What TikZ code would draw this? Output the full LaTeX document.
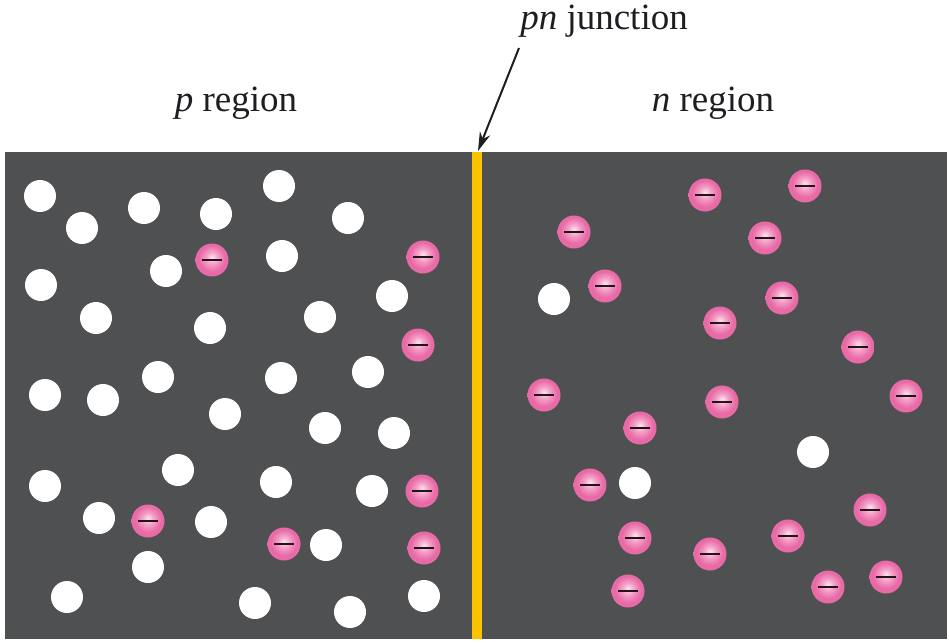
\documentclass[tikz,border=0pt]{standalone}
\usepackage{fontspec}
\setmainfont{Liberation Serif}
\usetikzlibrary{arrows.meta}
\definecolor{bulk}{RGB}{79,80,82}
\definecolor{junc}{RGB}{250,195,0}
\definecolor{elecin}{RGB}{254,228,240}
\definecolor{elecmid}{RGB}{244,160,200}
\definecolor{elecout}{RGB}{232,106,166}
\definecolor{minuscol}{RGB}{35,20,28}
\definecolor{inkcol}{RGB}{30,30,34}
% pink sphere with its highlight slightly above centre
\pgfdeclareradialshading{elecball}{\pgfpoint{0bp}{4bp}}{%
  color(0bp)=(elecin); color(9bp)=(elecmid); color(20bp)=(elecout);
  color(26bp)=(elecout); color(50bp)=(elecout)}
\tikzset{
  hole/.style={circle,fill=white,inner sep=0pt,minimum size=32pt},
  electron/.style={circle,inner sep=0pt,minimum size=33pt,
    shading=elecball,
    path picture={\draw[minuscol,line width=2.6pt]
      ([xshift=-10pt]path picture bounding box.center) --
      ([xshift=10pt]path picture bounding box.center);}},
  caption/.style={anchor=base,inner sep=0pt,text=inkcol,
    font=\fontsize{37}{44}\selectfont},
  pointer/.style={-{Stealth[length=19pt,width=11pt]},line width=2pt,inkcol}
}
\begin{document}
\begin{tikzpicture}[x=1pt,y=-1pt]
\useasboundingbox (0,0) rectangle (949,642);
% semiconductor bar
\fill[bulk] (5,152) rectangle (947,639);
% metallurgical junction
\fill[junc] (471.5,152) rectangle (482,639);
\coordinate (jtop) at (478,151);
% labels
\node[caption] (lp) at (236,111) {\textit{p} region};
\node[caption] (ln) at (713,111) {\textit{n} region};
\node[caption] (lj) at (604,30) {\textit{pn} junction};
\coordinate (jtail) at (519,48);
\draw[pointer] (jtail) -- (jtop);
% holes, p side
\foreach \x/\y [count=\i] in {
  40/196, 82/228, 144/208, 216/214, 279/186, 348/218,
  41/285, 166/271, 282/256, 392/296,
  96/318, 210/328, 320/317,
  45/395, 103/400, 158/377, 281/378, 368/372,
  225/414, 325/428, 394/433,
  45/486, 178/470, 276/482, 372/491,
  99/518, 211/522, 326/545,
  148/567, 67/597, 255/603, 350/612, 424/596}
  \node[hole] (hp\i) at (\x,\y) {};
% electrons, p side
\foreach \x/\y [count=\i] in {
  212/260, 423/257, 418/345, 422/491, 148/521, 284/544, 424/548}
  \node[electron] (ep\i) at (\x,\y) {};
% holes, n side
\foreach \x/\y [count=\i] in {554/299, 813/452, 635/483}
  \node[hole] (hn\i) at (\x,\y) {};
% electrons, n side
\foreach \x/\y [count=\i] in {
  705/195, 805/186, 574/232, 765/238, 605/286, 782/298,
  720/323, 858/347, 544/395, 722/402, 906/396, 640/428,
  590/485, 870/510, 635/538, 788/536, 710/554, 886/577,
  828/587, 628/591}
  \node[electron] (en\i) at (\x,\y) {};
\end{tikzpicture}
\end{document}
